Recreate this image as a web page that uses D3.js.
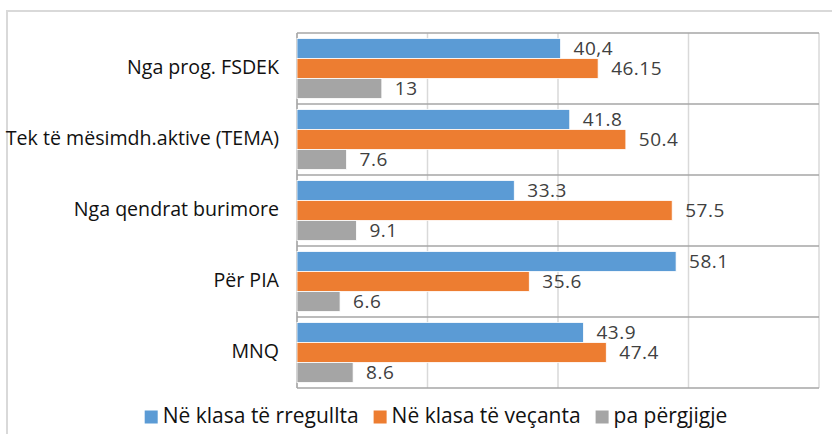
<!DOCTYPE html>
<html>
<head>
<meta charset="utf-8">
<script src="https://cdn.jsdelivr.net/npm/d3@7"></script>
<style>
  body { margin: 0; background: #fff; }
  svg { display: block; font-family: "Open Sans", sans-serif; }
</style>
</head>
<body>
<svg id="chart" width="832" height="434"></svg>
<script>
/*chart values*/
const categories = ["Nga prog. FSDEK", "Tek të mësimdh.aktive (TEMA)", "Nga qendrat burimore", "Për PIA", "MNQ"];
const seriesNames = ["Në klasa të rregullta", "Në klasa të veçanta", "pa përgjigje"];
const regularValues = [40.4, 41.8, 33.3, 58.1, 43.9];
const specialValues = [46.15, 50.4, 57.5, 35.6, 47.4];
const noAnswerValues = [13, 7.6, 9.1, 6.6, 8.6];
/*labels as printed in the chart (first one uses a comma)*/
const regularLabels = ["40,4", "41.8", "33.3", "58.1", "43.9"];
const specialLabels = ["46.15", "50.4", "57.5", "35.6", "47.4"];
const noAnswerLabels = ["13", "7.6", "9.1", "6.6", "8.6"];
const gridTicks = [0, 20, 40, 60, 80];

const colors = ["#5B9BD5", "#ED7D31", "#A5A5A5"];

const svg = d3.select("#chart");

/*outer chart border*/
svg.append("rect")
    .attr("x", 7).attr("y", 11)
    .attr("width", 900).attr("height", 500)
    .attr("fill", "none")
    .attr("stroke", "#d9d9d9")
    .attr("stroke-width", 2);

const plot = {left: 297, right: 819, top: 33, bottom: 388};

const x = d3.scaleLinear().domain([0, 80]).range([plot.left, plot.right]);
const y = d3.scaleBand().domain(categories).range([plot.top, plot.bottom]);
const inner = d3.scaleBand().domain(d3.range(3)).range([5.5, y.bandwidth() - 5.5]);

/*vertical gridlines*/
svg.append("g").selectAll("line")
    .data(gridTicks)
    .enter().append("line")
    .attr("x1", d => x(d)).attr("x2", d => x(d))
    .attr("y1", plot.top).attr("y2", plot.bottom)
    .attr("stroke", "#d9d9d9")
    .attr("stroke-width", 1.5);

/*category separators (axis ticks run across the plot)*/
const sepY = categories.map(c => y(c)).concat([plot.bottom]);
svg.append("g").selectAll("line")
    .data(sepY)
    .enter().append("line")
    .attr("x1", plot.left).attr("x2", plot.right)
    .attr("y1", d => d).attr("y2", d => d)
    .attr("stroke", "#a6a6a6")
    .attr("stroke-width", 1.5);

svg.append("line")
    .attr("x1", plot.left).attr("x2", plot.left)
    .attr("y1", plot.top).attr("y2", plot.bottom)
    .attr("stroke", "#a6a6a6")
    .attr("stroke-width", 1.5);

const seriesValues = [regularValues, specialValues, noAnswerValues];
const seriesLabels = [regularLabels, specialLabels, noAnswerLabels];

const rows = [];
categories.forEach((c, i) => {
    seriesValues.forEach((vals, s) => {
        rows.push({cat: c, s: s, value: vals[i], label: seriesLabels[s][i]});
    });
});

svg.append("g").selectAll("rect")
    .data(rows)
    .enter().append("rect")
    .attr("x", x(0))
    .attr("y", d => y(d.cat) + inner(d.s))
    .attr("width", d => x(d.value) - x(0))
    .attr("height", inner.bandwidth())
    .attr("fill", d => colors[d.s])
    .attr("stroke", "#fff")
    .attr("stroke-width", 0.8);

/*value labels, kept a bit smaller so neighbouring labels don't collide*/
svg.append("g").selectAll("text")
    .data(rows)
    .enter().append("text")
    .attr("x", d => x(d.value) + 13)
    .attr("y", d => y(d.cat) + inner(d.s) + inner.bandwidth() / 2 + 1)
    .attr("dominant-baseline", "middle")
    .attr("font-size", 19)
    .attr("letter-spacing", 0.5)
    .attr("fill", "#404040")
    .text(d => d.label);

/*category labels*/
svg.append("g").selectAll("text")
    .data(categories)
    .enter().append("text")
    .attr("x", 279)
    .attr("y", d => y(d) + y.bandwidth() / 2)
    .attr("dominant-baseline", "middle")
    .attr("text-anchor", "end")
    .attr("font-size", 19.6)
    .attr("fill", "#111")
    .text(d => d);

/*legend*/
const legend = svg.append("g").attr("id", "legend");
const items = legend.selectAll("g")
    .data(seriesNames)
    .enter().append("g");
items.append("rect")
    .attr("width", 13).attr("height", 13)
    .attr("y", -6.5)
    .attr("fill", (d, i) => colors[i]);
items.append("text")
    .attr("x", 18)
    .attr("dominant-baseline", "middle")
    .attr("font-size", 21)
    .attr("fill", "#111")
    .text(d => d);

let cursor = 0;
items.each(function() {
    const w = d3.select(this).select("text").node().getComputedTextLength();
    d3.select(this).attr("transform", "translate(" + cursor + ",0)");
    cursor += 18 + w + 15;
});
const legendWidth = cursor - 15;
legend.attr("transform", "translate(" + (436 - legendWidth / 2) + ",417)");
</script>
</body>
</html>
